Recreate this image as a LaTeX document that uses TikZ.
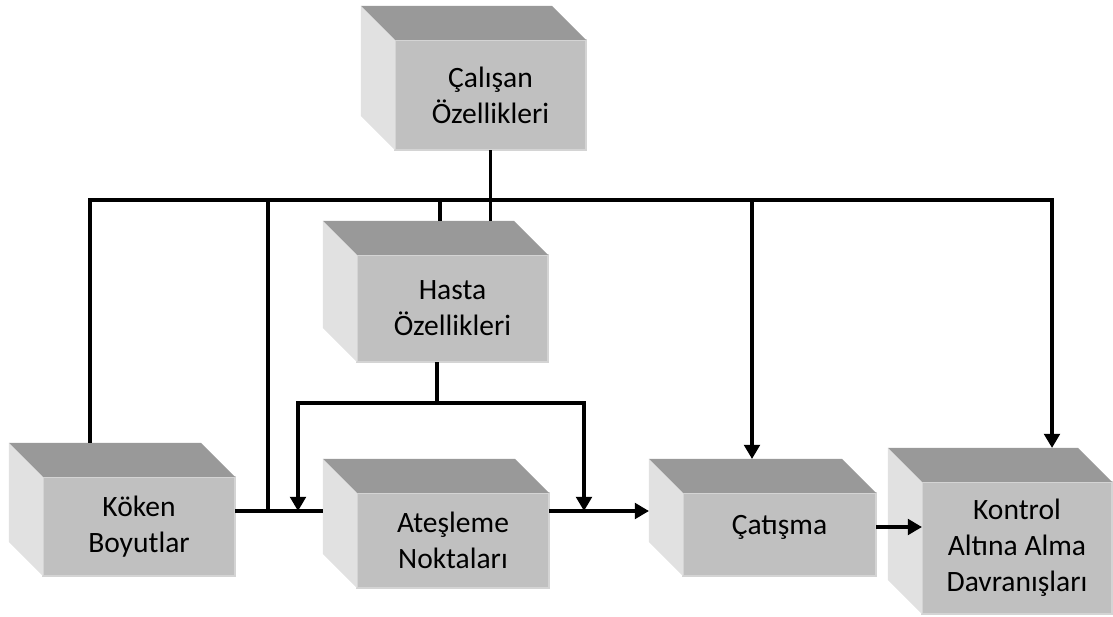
\documentclass[tikz,border=0pt]{standalone}
\usepackage{fontspec}
\setmainfont{Carlito}
\usetikzlibrary{arrows.meta,calc}
\definecolor{onYuz}{HTML}{C0C0C0}
\definecolor{ustYuz}{HTML}{999999}
\definecolor{yanYuz}{HTML}{E1E1E1}
\definecolor{kenar}{HTML}{D4D4D4}
\tikzset{
  kutu/.style={rectangle, fill=onYuz, draw=kenar, line width=0.8pt, inner sep=0pt,
    outer sep=0pt, align=center, font=\fontsize{21}{25.5}\selectfont},
  hat/.style={line width=2.8pt},
  ok/.style={hat, -{Triangle[length=10pt,width=11pt]}}
}
% top and left faces of a box
\newcommand{\yuzler}[1]{%
  \fill[ustYuz] (#1.north west) -- ++(-34,-34) -- ($(#1.north east)+(-34,-34)$) -- (#1.north east) -- cycle;
  \fill[yanYuz] (#1.north west) -- ++(-34,-34) -- ($(#1.south west)+(-34,-34)$) -- (#1.south west) -- cycle;
}
\begin{document}
\begin{tikzpicture}[x=0.025cm,y=-0.025cm]
  \useasboundingbox (0,0) rectangle (1113,617);
  % boxes
  \node[kutu, minimum width=4.775cm, minimum height=2.75cm] (calisan) at (490.5,95) {Çalışan\\Özellikleri};
  \node[kutu, minimum width=4.775cm, minimum height=2.675cm] (hasta) at (452.5,308.5) {Hasta\\Özellikleri};
  \node[kutu, minimum width=4.8cm, minimum height=2.475cm] (koken) at (139,526.5) {Köken\\Boyutlar};
  \node[kutu, minimum width=4.8cm, minimum height=2.375cm] (atesleme) at (453,540.5) {Ateşleme\\Noktaları};
  \node[kutu, minimum width=4.825cm, minimum height=2.075cm] (catisma) at (779.5,534.5) {\raisebox{0.5cm}{Çatışma}};
  \node[kutu, minimum width=4.75cm, minimum height=3.3cm] (kontrol) at (1017,548) {Kontrol\\Altına Alma\\Davranışları};
  \yuzler{calisan}
  \yuzler{hasta}
  \yuzler{koken}
  \yuzler{atesleme}
  \yuzler{catisma}
  \yuzler{kontrol}

  \coordinate (busL) at (90,200);
  \coordinate (busR) at (1052,200);
  \coordinate (b1) at (268,200);
  \coordinate (b2) at (440,200);
  \coordinate (b3) at (752,200);
  \coordinate (kokenUst) at ($(koken.north -| busL)+(0,-34)$);
  \coordinate (kontrolUst) at ($(kontrol.north -| busR)+(0,-34)$);
  \coordinate (hastaUst) at ($(hasta.north)+(0,-34)$);
  \coordinate (hatY) at (0,511);
  \coordinate (hatZ) at (0,527);
  \coordinate (h0) at ($(hasta.south)+(-15.5,0)$);
  \coordinate (h1) at (437,403);
  \coordinate (o1) at (298,511);
  \coordinate (o2) at (584,511);

  % top bus
  \draw[ok] (kokenUst) -- (busL) -- (busR) -- (kontrolUst);
  \draw[hat] (calisan.south) -- (calisan.south |- hastaUst);
  \draw[hat] (b2) -- (b2 |- hastaUst);
  \draw[hat] (b1) -- (b1 |- hatY);
  \draw[ok] (b3) -- ($(catisma.north -| b3)+(0,-34)$);

  % patient branch
  \draw[hat] (h0) -- (h1);
  \draw[ok] (h1) -| (o1);
  \draw[ok] (h1) -| (o2);

  % main flow
  \draw[hat] (koken.east |- hatY) -- ($(atesleme.west |- hatY)+(-34,0)$);
  \draw[ok] (atesleme.east |- hatY) -- ($(catisma.west |- hatY)+(-34,0)$);
  \draw[ok] (catisma.east |- hatZ) -- (kontrol.west |- hatZ);
\end{tikzpicture}
\end{document}
